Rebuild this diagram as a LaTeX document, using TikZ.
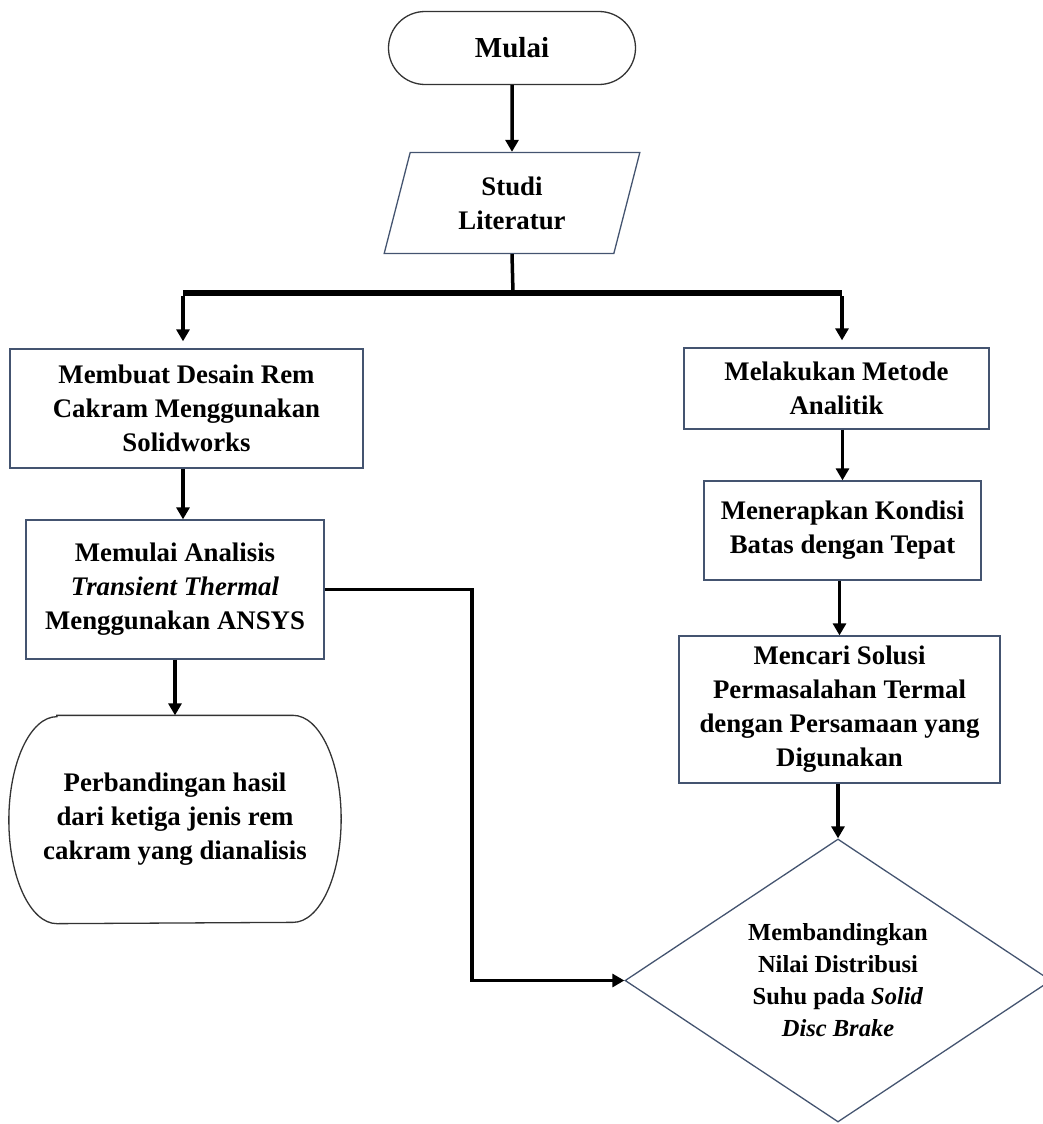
\documentclass[tikz,border=0pt]{standalone}
\usepackage{fontspec}
\setmainfont{Liberation Serif}
\usetikzlibrary{shapes.geometric,shapes.misc,arrows.meta}
\definecolor{boxline}{RGB}{68,84,112}
\begin{document}
\begin{tikzpicture}[x=1pt,y=-1pt]
\tikzstyle{s}=[rectangle, draw=boxline, line width=1.3pt, inner sep=2pt, align=center, font=\fontsize{26.8}{34}\selectfont\bfseries];
\tikzstyle{term}=[s, draw=black!80];
\tikzstyle{ln}=[line width=3.5pt];
\tikzstyle{arr}=[ln, -{Triangle[width=13pt,length=12pt]}];
\useasboundingbox (0,0) rectangle (1043,1124);
\node [term, rounded rectangle, minimum width=251pt, minimum height=73pt, font=\fontsize{29}{34}\selectfont\bfseries] (v1) at (512,48) {Mulai};
\node [s, trapezium, trapezium left angle=76, trapezium right angle=104, trapezium stretches=true, minimum width=256pt, minimum height=101pt] (v2) at (512,203) {Studi\\Literatur};
\draw [arr] (v1) -- (v2);
\coordinate (b) at (513,293);
\coordinate (bl) at (183,293);
\coordinate (br) at (842,293);
\draw [ln] (v2.south) -- (b);
\draw [line width=6pt] (bl) -- (br);
% kiri
\node [s, minimum width=353pt, minimum height=119pt] (v3) at (186.5,408.5) {Membuat Desain Rem\\Cakram Menggunakan\\Solidworks};
\draw [arr, shorten >=7pt] ([yshift=-3pt]bl) -- (bl |- v3.north);
\node [s, minimum width=298pt, minimum height=139pt] (v5) at (175,589.5) {Memulai Analisis\\\textit{Transient Thermal}\\Menggunakan ANSYS};
\draw [arr] (v3.south -| bl) -- (bl |- v5.north);
\node [term, draw=none, minimum width=331pt, minimum height=207pt] (v6) at (175,819.5) {Perbandingan hasil\\dari ketiga jenis rem\\cakram yang dianalisis};
\draw [black!80, line width=1.3pt] ([xshift=48pt]v6.north west) -- ([xshift=-48pt]v6.north east)
  arc [start angle=90, end angle=-90, x radius=48pt, y radius=103.5pt]
  -- ([xshift=48pt]v6.south west)
  arc [start angle=270, end angle=90, x radius=48pt, y radius=103.5pt] -- cycle;
\draw [arr] (v5) -- (v6);
% kanan
\node [s, minimum width=305pt, minimum height=81pt] (v7) at (836.5,388.5) {Melakukan Metode\\Analitik};
\draw [arr, shorten >=7pt] ([yshift=-3pt]br) -- (br |- v7.north);
\node [s, minimum width=277pt, minimum height=99pt] (v8) at (842.5,530.5) {Menerapkan Kondisi\\Batas dengan Tepat};
\draw [arr] (v7.south -| v8) -- (v8.north);
\node [s, minimum width=321pt, minimum height=147pt] (v9) at (839.5,709.5) {Mencari Solusi\\Permasalahan Termal\\dengan Persamaan yang\\Digunakan};
\draw [arr] (v8.south -| v9) -- (v9.north);
\node [s, diamond, aspect=1.5, inner sep=0pt, minimum width=426pt, minimum height=283pt, font=\fontsize{24.5}{32}\selectfont\bfseries] (v10) at (838,980.5) {Membandingkan\\Nilai Distribusi\\Suhu pada \textit{Solid}\\\textit{Disc Brake}};
\draw [arr] (v9.south -| v10) -- (v10.north);
\coordinate (k) at (472,980.5);
\draw [arr] (v5.east) -| (k) -- (v10.west);
\end{tikzpicture}
\end{document}
